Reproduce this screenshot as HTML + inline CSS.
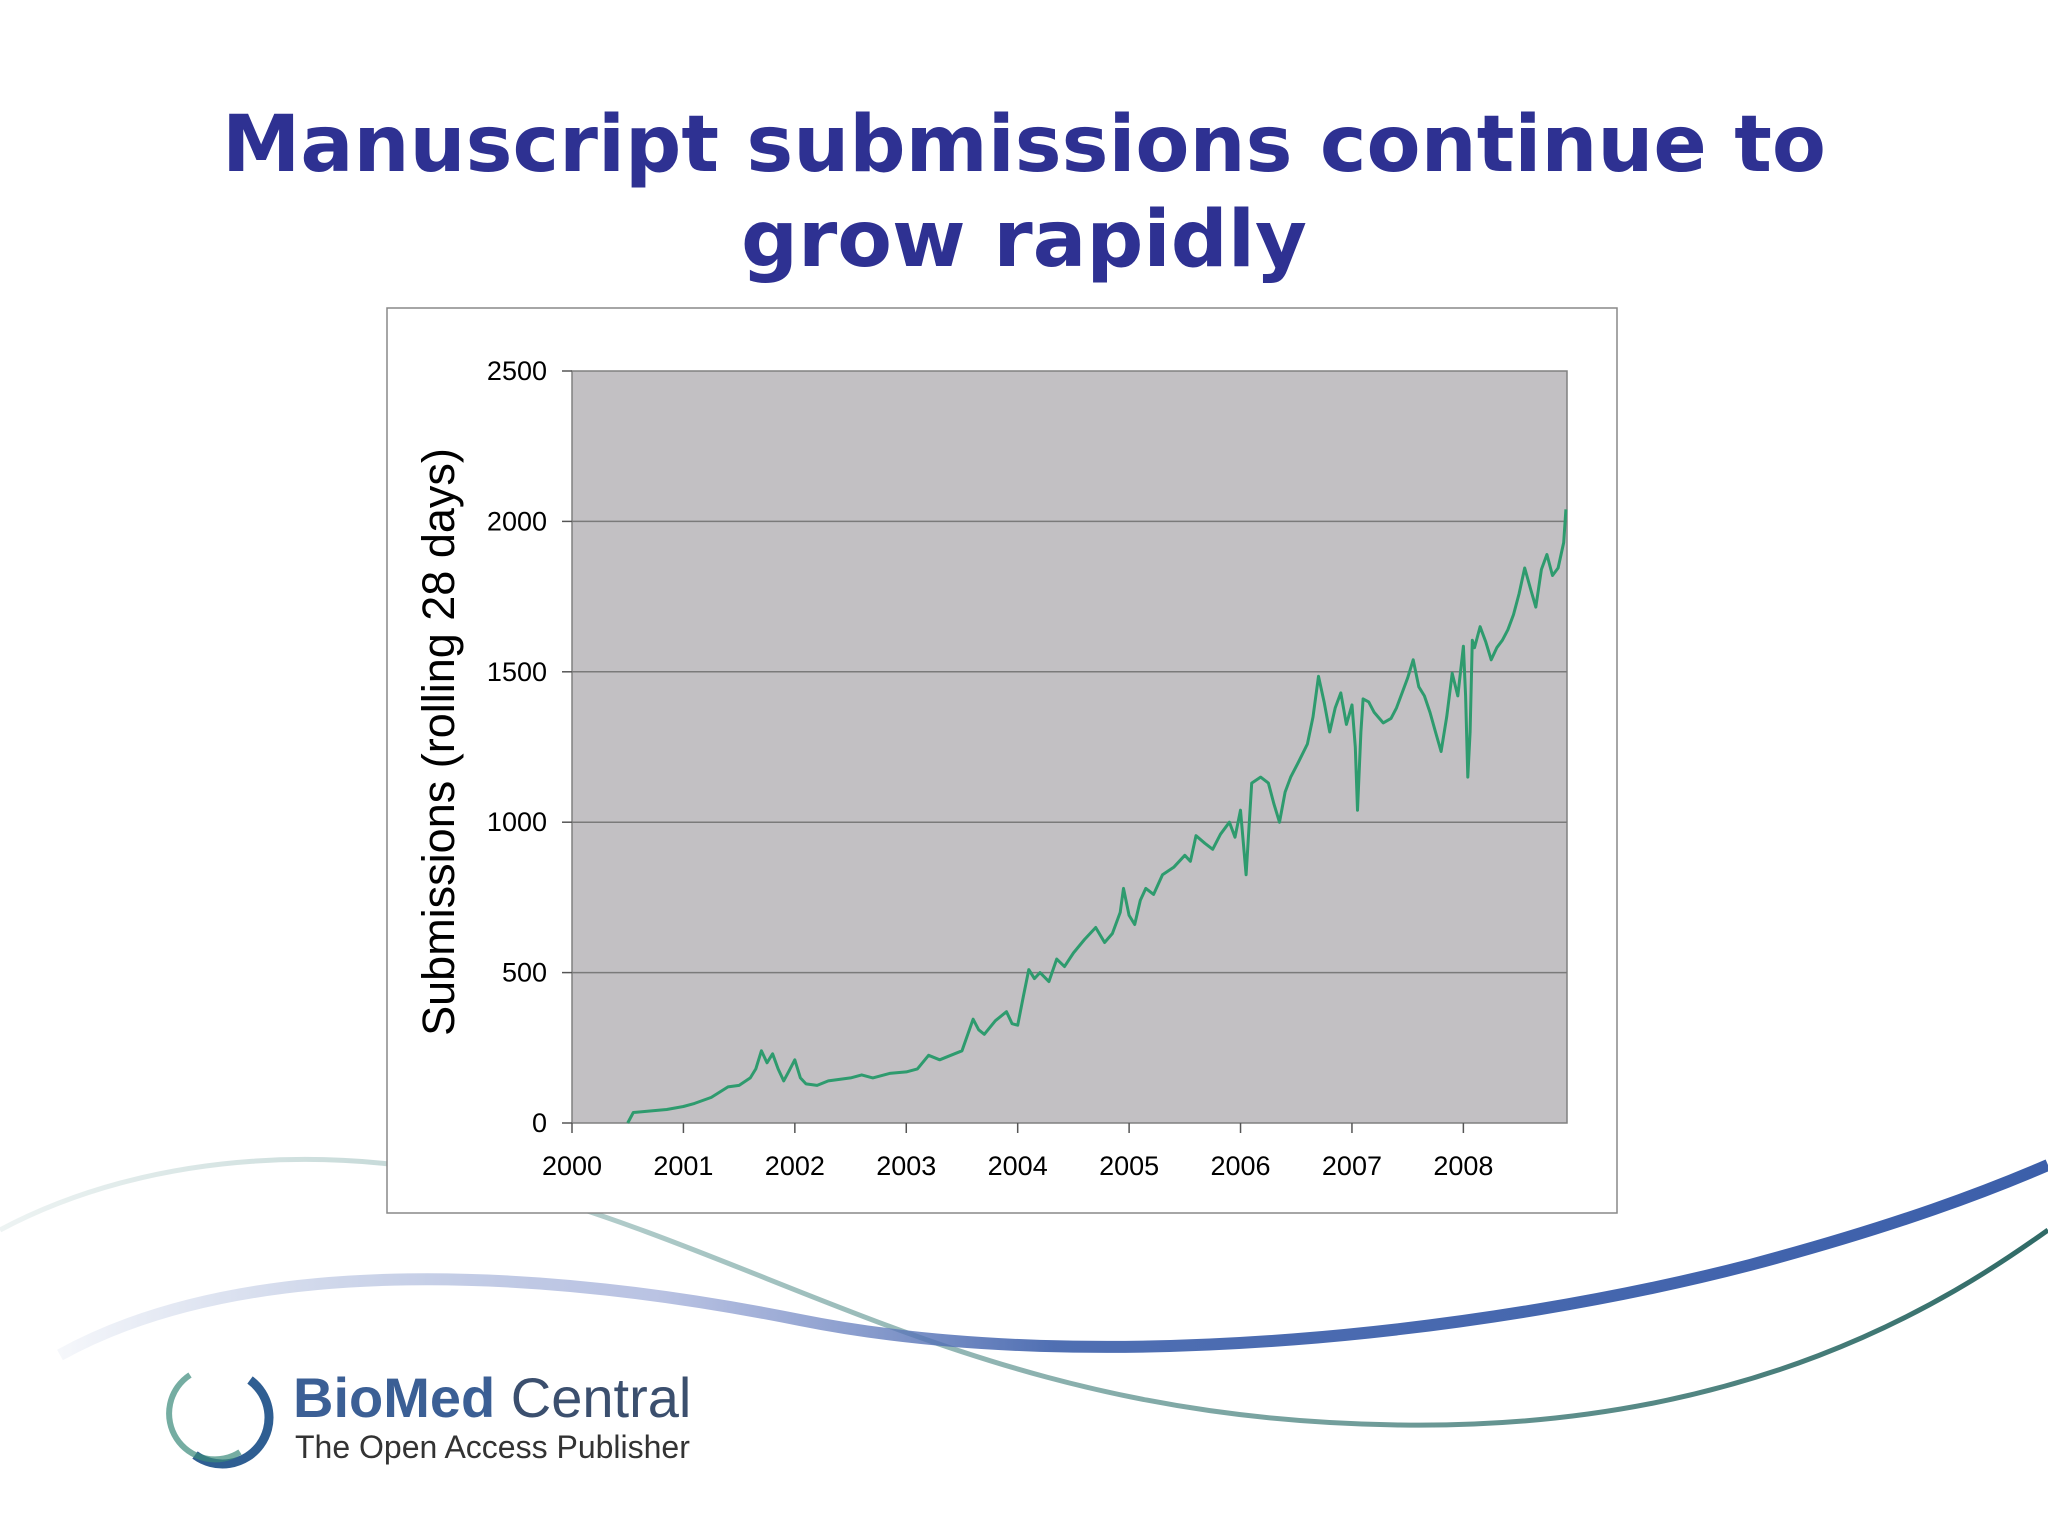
<!DOCTYPE html>
<html><head><meta charset="utf-8"><style>
body{margin:0;background:#fff;}
svg{display:block;}
</style></head><body>
<svg width="2048" height="1536" viewBox="0 0 2048 1536" xmlns="http://www.w3.org/2000/svg">
<defs>
<linearGradient id="gb" x1="0" x2="1" y1="0" y2="0">
<stop offset="0" stop-color="#3c5faa" stop-opacity="0.05"/>
<stop offset="0.3" stop-color="#8c9bd0" stop-opacity="0.6"/>
<stop offset="0.5" stop-color="#3c5faa" stop-opacity="0.9"/>
<stop offset="1" stop-color="#3c5faa" stop-opacity="1"/>
</linearGradient>
<linearGradient id="gt" x1="0" x2="1" y1="0" y2="0">
<stop offset="0" stop-color="#4d8a86" stop-opacity="0.1"/>
<stop offset="0.35" stop-color="#4d8a86" stop-opacity="0.5"/>
<stop offset="1" stop-color="#2f6a66" stop-opacity="1"/>
</linearGradient>
</defs>
<g>
<path d="M0,1230 C150,1150 350,1140 520,1190 C800,1270 1000,1420 1400,1425 C1750,1430 1950,1300 2048,1230" fill="none" stroke="url(#gt)" stroke-width="5"/>
<path d="M60,1355 C250,1250 550,1270 800,1320 C1100,1380 1500,1330 1750,1265 C1900,1225 1990,1190 2048,1165" fill="none" stroke="url(#gb)" stroke-width="12"/>
</g>
<g font-family="'DejaVu Sans','Liberation Sans',sans-serif" font-weight="bold" font-size="78" fill="#2e3192" text-anchor="middle">
<text x="1024" y="171" textLength="1604" lengthAdjust="spacingAndGlyphs">Manuscript submissions continue to</text>
<text x="1024" y="266" textLength="566" lengthAdjust="spacingAndGlyphs">grow rapidly</text>
</g>
<rect x="387" y="308" width="1230" height="905" fill="#fff" stroke="#888" stroke-width="1.5"/>
<g id="chart"></g>
<g>
<path d="M250,1380 A45,45 0 1 1 195,1455" fill="none" stroke="#2f5e92" stroke-width="9"/>
<path d="M190,1375 A45,45 0 0 0 240,1452" fill="none" stroke="#3a8a7a" stroke-width="6" opacity="0.7"/>
<text x="293" y="1417" font-family="'Liberation Sans',sans-serif" font-size="56" fill="#3b5f95"><tspan font-weight="bold">BioMed</tspan><tspan fill="#3b4f6e"> Central</tspan></text>
<text x="295" y="1458" font-family="'Liberation Sans',sans-serif" font-size="32" fill="#333">The Open Access Publisher</text>
</g>
</svg>
<script>
const years = [2000,2001,2002,2003,2004,2005,2006,2007,2008];
const yTicks = [0,500,1000,1500,2000,2500];
const dates = [2000.5,2000.55,2000.7,2000.85,2001.0,2001.1,2001.25,2001.4,2001.5,2001.6,2001.65,2001.7,2001.75,2001.8,2001.85,2001.9,2001.95,2002.0,2002.05,2002.1,2002.2,2002.3,2002.4,2002.5,2002.6,2002.7,2002.85,2003.0,2003.1,2003.2,2003.3,2003.4,2003.5,2003.6,2003.65,2003.7,2003.8,2003.9,2003.95,2004.0,2004.05,2004.1,2004.15,2004.2,2004.28,2004.35,2004.42,2004.5,2004.6,2004.7,2004.78,2004.85,2004.92,2004.95,2005.0,2005.05,2005.1,2005.15,2005.22,2005.3,2005.4,2005.5,2005.55,2005.6,2005.68,2005.75,2005.82,2005.9,2005.95,2006.0,2006.05,2006.1,2006.18,2006.25,2006.3,2006.35,2006.4,2006.45,2006.52,2006.6,2006.65,2006.7,2006.75,2006.8,2006.85,2006.9,2006.95,2007.0,2007.03,2007.05,2007.08,2007.1,2007.15,2007.2,2007.28,2007.35,2007.4,2007.45,2007.5,2007.55,2007.6,2007.65,2007.7,2007.75,2007.8,2007.85,2007.9,2007.95,2008.0,2008.02,2008.04,2008.06,2008.08,2008.1,2008.15,2008.2,2008.25,2008.3,2008.35,2008.4,2008.45,2008.5,2008.55,2008.6,2008.65,2008.7,2008.75,2008.8,2008.85,2008.9,2008.92,2008.93];
const values = [0,35,40,45,55,65,85,120,125,150,180,240,200,230,180,140,175,210,150,130,125,140,145,150,160,150,165,170,180,225,210,225,240,345,310,295,340,370,330,325,420,510,480,500,470,545,520,565,610,650,600,630,700,780,690,660,740,780,760,825,850,890,870,955,930,910,960,1000,950,1040,825,1130,1150,1130,1060,1000,1100,1150,1200,1260,1350,1485,1400,1300,1380,1430,1325,1390,1250,1040,1300,1410,1400,1365,1330,1345,1380,1430,1480,1540,1450,1420,1365,1300,1235,1350,1495,1420,1585,1420,1150,1300,1605,1580,1650,1600,1540,1580,1605,1640,1690,1760,1845,1780,1715,1840,1890,1820,1845,1930,2040];
const NS="http://www.w3.org/2000/svg";
const g=document.getElementById('chart');
const L=572,R=1567,T=371,B=1123,X0=2000,X1=2008.93,YMAX=2500;
const sx=v=>L+(v-X0)/(X1-X0)*(R-L);
const sy=v=>B-v/YMAX*(B-T);
function el(t,a){const e=document.createElementNS(NS,t);for(const k in a)e.setAttribute(k,a[k]);g.appendChild(e);return e;}
const bg=el('rect',{x:L,y:T,width:R-L,height:B-T,fill:'#c2c0c3',stroke:'#808080','stroke-width':1.5});


yTicks.forEach(v=>{
  if(v>0&&v<YMAX){const gl=el('line',{x1:L,x2:R,y1:sy(v),y2:sy(v),stroke:'#7a7a7a','stroke-width':1.5});
  
  }
  const tk=el('line',{x1:L-10,x2:L,y1:sy(v),y2:sy(v),stroke:'#555','stroke-width':1.5});
  
  
  const t=el('text',{x:547,y:sy(v)+9,'text-anchor':'end','font-family':"'Liberation Sans',sans-serif",'font-size':27,fill:'#000'});
  t.textContent=v;
  
  
});
years.forEach(y=>{
  const tk=el('line',{x1:sx(y),x2:sx(y),y1:B,y2:B+10,stroke:'#555','stroke-width':1.5});
  
  
  const t=el('text',{x:sx(y),y:1175,'text-anchor':'middle','font-family':"'Liberation Sans',sans-serif",'font-size':27,fill:'#000'});
  t.textContent=y;
  
  
});
const yt=el('text',{x:0,y:0,transform:'translate(454,742) rotate(-90)','text-anchor':'middle','font-family':"'Liberation Sans',sans-serif",'font-size':45,fill:'#000'});
yt.textContent='Submissions (rolling 28 days)';


const d=dates.map((x,i)=>(i?'L':'M')+sx(x).toFixed(1)+','+sy(values[i]).toFixed(1)).join(' ');
const line=el('path',{d:d,fill:'none',stroke:'#2e9b6e','stroke-width':3,'stroke-linejoin':'round'});


</script>
</body></html>
